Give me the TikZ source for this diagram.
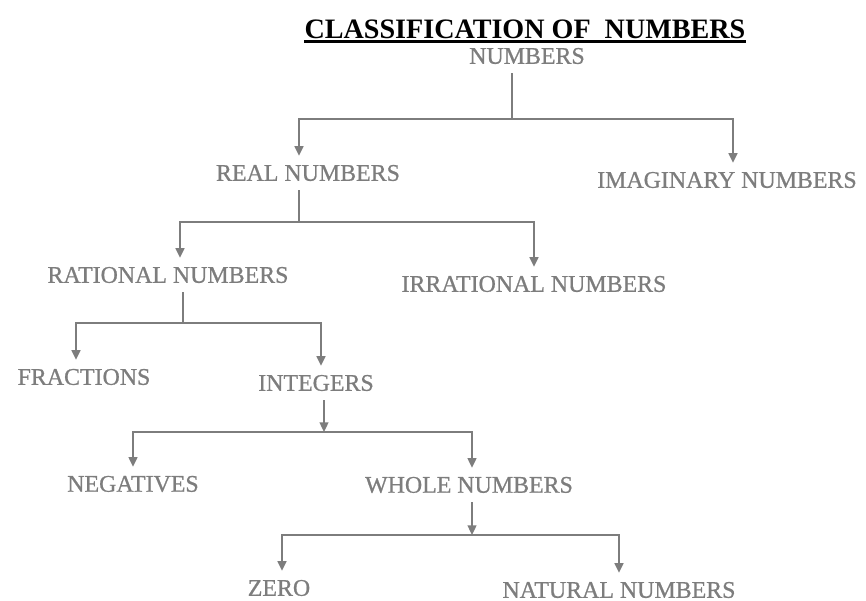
\documentclass[tikz,border=0pt]{standalone}
\usepackage{fontspec}
\setmainfont{Liberation Serif}
\newfontfamily\numfont{Liberation Serif}[FakeBold=0.8]
\usetikzlibrary{arrows.meta}
\definecolor{inkgray}{RGB}{125,125,125}
\begin{document}
\begin{tikzpicture}[x=0.02cm,y=-0.02cm,
		numnode/.style={inner xsep=1pt,inner ysep=5pt,text=inkgray,font=\numfont\fontsize{13.6}{16}\selectfont},
		tree/.style={draw=inkgray,line width=1.1pt},
		treearrow/.style={tree,-{Triangle[length=5.5pt,width=5pt]}}]
	\useasboundingbox (0,0) rectangle (866,601);
	\node [inner sep=0pt,font=\fontsize{16}{18}\selectfont\bfseries] (title) at (525,29) {CLASSIFICATION OF\ \ NUMBERS};
	\draw [line width=1.4pt] ([yshift=-1.6pt]title.south west) -- ([yshift=-1.6pt]title.south east);
	\node [numnode] (numbers) at (527,56) {NUMBERS};
	\node [numnode] (real) at (308,173) {REAL NUMBERS};
	\node [numnode] (imag) at (727,180) {IMAGINARY NUMBERS};
	\node [numnode] (rational) at (168,275) {RATIONAL NUMBERS};
	\node [numnode] (irrational) at (534,284) {IRRATIONAL NUMBERS};
	\node [numnode] (fractions) at (84,377) {FRACTIONS};
	\node [numnode] (integers) at (316,383) {INTEGERS};
	\node [numnode] (negatives) at (133,484) {NEGATIVES};
	\node [numnode] (whole) at (469,485) {WHOLE NUMBERS};
	\node [numnode] (zero) at (279,588) {ZERO};
	\node [numnode] (natural) at (619,590) {NATURAL NUMBERS};
	\coordinate (j1) at (512,119);
	\coordinate (j2) at (299,222);
	\coordinate (j3) at (183,323);
	\coordinate (j4) at (324,432);
	\coordinate (j5) at (472,535);
	\draw [tree] ([xshift=-0.3cm]numbers.south) -- (j1);
	\draw [treearrow] (j1) -| ([xshift=-0.18cm]real.north);
	\draw [treearrow] (j1) -| ([xshift=0.12cm]imag.north);
	\draw [tree] ([xshift=-0.18cm]real.south) -- (j2);
	\draw [treearrow] (j2) -| ([xshift=0.24cm]rational.north);
	\draw [treearrow] (j2) -| (irrational.north);
	\draw [tree] ([xshift=0.3cm]rational.south) -- (j3);
	\draw [treearrow] (j3) -| ([xshift=-0.16cm]fractions.north);
	\draw [treearrow] (j3) -| ([xshift=0.1cm]integers.north);
	\draw [treearrow] ([xshift=0.16cm]integers.south) -- (j4);
	\draw [treearrow] (j4) -| (negatives.north);
	\draw [treearrow] (j4) -| ([xshift=0.06cm]whole.north);
	\draw [treearrow] ([xshift=0.06cm]whole.south) -- (j5);
	\draw [treearrow] (j5) -| ([xshift=0.06cm]zero.north);
	\draw [treearrow] (j5) -| (natural.north);
\end{tikzpicture}
\end{document}
